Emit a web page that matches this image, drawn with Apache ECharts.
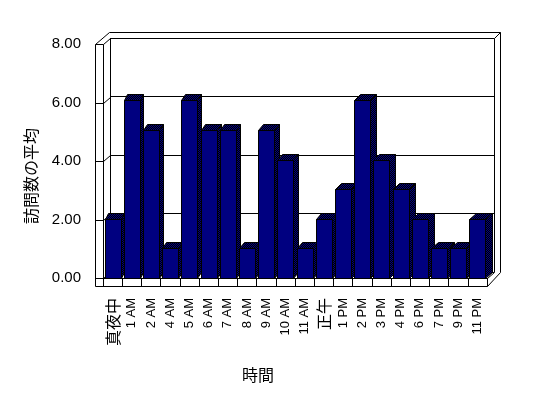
<!DOCTYPE html>
<html>
<head>
<meta charset="utf-8">
<script src="https://cdn.jsdelivr.net/npm/echarts@6/dist/echarts.min.js"></script>
<style>
  html, body { margin: 0; padding: 0; background: #fff; }
  #chart { width: 548px; height: 398px; }
</style>
</head>
<body>
<div id="chart"></div>
<script>
const categories = ['真夜中', '1 AM', '2 AM', '4 AM', '5 AM', '6 AM', '7 AM', '8 AM', '9 AM', '10 AM',
  '11 AM', '正午', '1 PM', '2 PM', '3 PM', '4 PM', '6 PM', '7 PM', '9 PM', '11 PM'];
const visits = [2, 6, 5, 1, 6, 5, 5, 1, 5, 4, 1, 2, 3, 6, 4, 3, 2, 1, 1, 2];
const yMin = 0;
const yMax = 8;
const yStep = 2;
const yTicks = [0, 2, 4, 6, 8];

const latin = '"Liberation Sans", Arial, sans-serif';
const cjk = '"Noto Sans CJK JP", sans-serif';

// dithered navy/black fill for the side and top faces
function ditherPattern() {
  const c = document.createElement('canvas');
  c.width = 2;
  c.height = 2;
  const ctx = c.getContext('2d');
  ctx.fillStyle = '#000000';
  ctx.fillRect(0, 0, 2, 2);
  ctx.fillStyle = '#000080';
  ctx.fillRect(0, 0, 1, 1);
  ctx.fillRect(1, 1, 1, 1);
  return { image: c, repeat: 'repeat' };
}
const dither = ditherPattern();

function px(v) {
  return Math.round(v) + 0.5;
}

function line(points) {
  return {
    type: 'polyline',
    shape: { points: points.map(p => [px(p[0]), px(p[1])]) },
    style: { stroke: '#000', lineWidth: 1, fill: null }
  };
}

// walls and floor, built from the back wall grid
function renderFrame(params, api) {
  const bw = api.size([1, 0])[0];
  const L = api.coord([0, 0])[0] - bw / 2;
  const R = L + bw * categories.length;
  const B = api.coord([0, yMin])[1];
  const T = api.coord([0, yMax])[1];
  const children = [
    line([[L, B], [L, T], [R, T], [R, B]]),
    line([[L - 1.5, T - 6], [R + 6, T - 6], [R + 6, B]]),
    line([[R, T], [R + 6, T - 6]]),
    line([[L - 15.5, T + 6], [L - 15.5, B + 14]]),
    line([[L - 7.5, T + 6], [L - 7.5, B + 6]]),
    line([[L - 15.5, T + 6], [L - 1.5, T - 6]]),
    line([[L - 15.5, T + 6], [L - 7.5, T + 6], [L, T]]),
    line([[L - 15.5, B + 14], [R - 7, B + 14]]),
    line([[R - 7, B + 6], [R - 7, B + 14]]),
    line([[R - 7, B + 6], [R, B]]),
    line([[R - 7, B + 14], [R + 6, B]])
  ];
  yTicks.slice(0, -1).forEach(v => {
    const y = api.coord([0, v])[1];
    children.push(line([[L - 15.5, y + 6], [L - 7.5, y + 6], [L, y]]));
  });
  return { type: 'group', children: children };
}

function renderBar(params, api) {
  const idx = api.value(0);
  const top = api.coord([idx, api.value(1)]);
  const base = api.coord([idx, 0]);
  const w = 16;
  const x0 = Math.round(top[0] - w / 2) + 0.5;
  const x1 = x0 + w;
  const y0 = Math.round(top[1]) + 0.5;
  const yb = Math.round(base[1]) + 0.5;
  const cs = params.coordSys;
  const dx = Math.round(3 + 4 * (top[0] - cs.x) / cs.width);
  const dy = 6;
  return {
    type: 'group',
    children: [
      {
        type: 'polygon',
        shape: { points: [[x1, y0], [x1 + dx, y0 - dy], [x1 + dx, yb - dy], [x1, yb]] },
        style: { fill: dither, stroke: '#000', lineWidth: 1 }
      },
      {
        type: 'polygon',
        shape: { points: [[x0, y0], [x1, y0], [x1 + dx, y0 - dy], [x0 + dx, y0 - dy]] },
        style: { fill: dither, stroke: '#000', lineWidth: 1 }
      },
      {
        type: 'rect',
        shape: { x: x0, y: y0, width: w, height: yb - y0 },
        style: { fill: '#000080', stroke: '#000', lineWidth: 1 }
      }
    ]
  };
}

const chart = echarts.init(document.getElementById('chart'), null, { renderer: 'canvas' });

const option = {
  animation: false,
  backgroundColor: '#fff',
  grid: [
    { left: 110, top: 38, width: 384, height: 234 },   // back wall
    { left: 103, top: 41, width: 384, height: 237 },   // bars
    { left: 94, top: 44, width: 384, height: 234 }     // front value labels
  ],
  xAxis: [
    { gridIndex: 0, type: 'category', data: categories, show: false },
    {
      gridIndex: 1,
      type: 'category',
      data: categories,
      axisLine: { lineStyle: { color: '#000', width: 1 } },
      axisTick: { show: true, length: 8, interval: 0, lineStyle: { color: '#000' } },
      axisLabel: {
        interval: 0,
        rotate: 90,
        margin: 20,
        color: '#000',
        fontSize: 13,
        fontFamily: latin,
        formatter: v => /[^\x00-\x7f]/.test(v) ? '{j|' + v + '}' : v,
        rich: { j: { fontSize: 16, fontFamily: cjk, color: '#000' } }
      }
    },
    { gridIndex: 2, type: 'value', show: false }
  ],
  yAxis: [
    {
      gridIndex: 0, type: 'value', min: yMin, max: yMax, interval: yStep,
      axisLine: { show: false }, axisTick: { show: false }, axisLabel: { show: false },
      splitLine: { show: true, lineStyle: { color: '#000', width: 1 } }
    },
    { gridIndex: 1, type: 'value', min: yMin, max: yMax, interval: yStep, show: false },
    {
      gridIndex: 2, type: 'value', min: yMin, max: yMax, interval: yStep,
      axisLine: { show: false }, axisTick: { show: false }, splitLine: { show: false },
      axisLabel: {
        margin: 13,
        color: '#000',
        fontSize: 15,
        fontFamily: latin,
        formatter: v => v.toFixed(2)
      }
    }
  ],
  graphic: [
    {
      type: 'text',
      x: 31,
      y: 176,
      rotation: Math.PI / 2,
      style: {
        text: '訪問数の平均',
        fontSize: 16,
        fontFamily: cjk,
        fill: '#000',
        align: 'center',
        verticalAlign: 'middle'
      }
    },
    {
      type: 'text',
      x: 258,
      y: 375,
      style: {
        text: '時間',
        fontSize: 16,
        fontFamily: cjk,
        fill: '#000',
        align: 'center',
        verticalAlign: 'middle'
      }
    }
  ],
  series: [
    {
      type: 'custom',
      xAxisIndex: 0,
      yAxisIndex: 0,
      silent: true,
      z: 1,
      data: [[0, 0]],
      renderItem: renderFrame
    },
    {
      type: 'custom',
      xAxisIndex: 1,
      yAxisIndex: 1,
      z: 3,
      encode: { x: 0, y: 1 },
      data: visits.map((v, i) => [i, v]),
      renderItem: renderBar
    }
  ]
};

chart.setOption(option);
</script>
</body>
</html>
